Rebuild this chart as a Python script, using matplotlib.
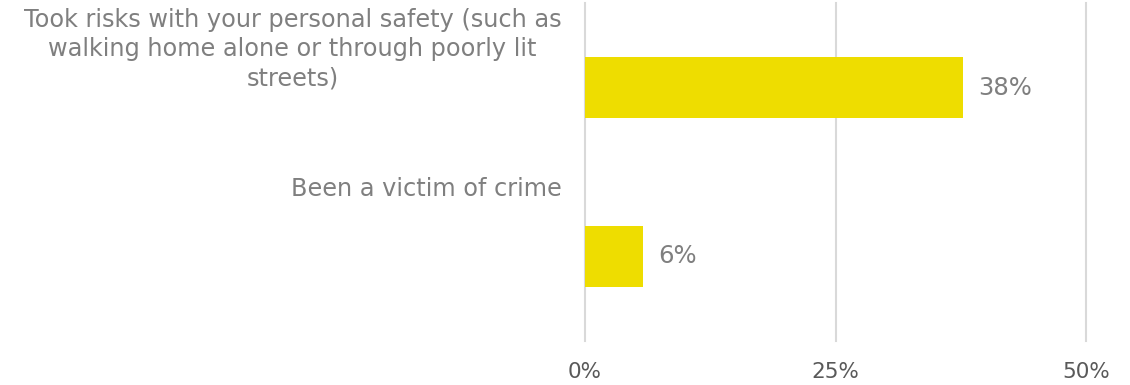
import matplotlib
matplotlib.use("Agg")
import matplotlib.pyplot as plt

plt.rcParams["font.family"] = ["DejaVu Sans"]

categories = [
    "Took risks with your personal safety (such as\nwalking home alone or through poorly lit\nstreets)",
    "Been a victim of crime",
]
values = [37.7, 5.8]
value_labels = ["38%", "6%"]
xticks = [0, 25, 50]
xtick_labels = ["0%", "25%", "50%"]

BAR = "#EEDD00"
GRID = "#D9D9D9"
TXT = "#7F7F7F"
TICK = "#595959"

fig = plt.figure(figsize=(11.3, 3.85), dpi=100)
ax = fig.add_axes([0.5177, 0.1143, 0.4434, 0.8779])

ys = list(range(len(categories)))
ax.barh(ys, values, height=0.36, color=BAR, zorder=3)
ax.set_ylim(len(categories) - 0.5, -0.5)
ax.set_xlim(0, 50)

ax.set_xticks(xticks)
ax.set_xticklabels(xtick_labels, fontsize=15.5, color=TICK)
ax.tick_params(axis="x", length=0, pad=15)
ax.set_yticks([])
ax.grid(axis="x", color=GRID, linewidth=1.5, zorder=0)
for gl in ax.get_xgridlines():
    gl.set_clip_on(False)
for s in ax.spines.values():
    s.set_visible(False)

for y, v, lab in zip(ys, values, value_labels):
    ax.text(v + 1.5, y, lab, va="center", ha="left", fontsize=17.5, color=TXT)

for y, cat in zip(ys, categories):
    ax.annotate(cat, xy=(0, y - 0.47), xycoords="data",
                xytext=(-17, 0), textcoords="offset points",
                ha="right", va="top", multialignment="center",
                fontsize=17.3, color=TXT, linespacing=1.27,
                annotation_clip=False)

fig.savefig("out.png", dpi=100)
